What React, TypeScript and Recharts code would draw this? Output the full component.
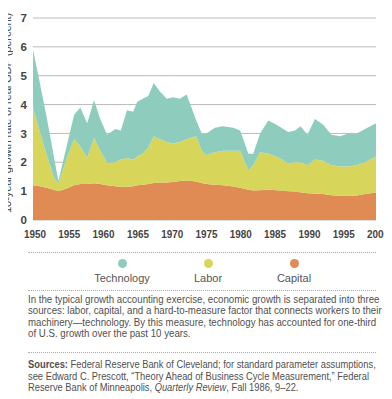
import { AreaChart, Area, XAxis, YAxis, CartesianGrid } from "recharts";

const years = [
  1950, 1951, 1952, 1953, 1953.7, 1955, 1956, 1956.9, 1957.9, 1958.9, 1959.8,
  1960.8, 1962, 1962.8, 1963.7, 1964.6, 1965.2, 1966, 1966.8, 1967.6, 1968.5,
  1969.5, 1970.4, 1971.4, 1972.4, 1973.8, 1974.6, 1975.3, 1976.5, 1977.7,
  1979.2, 1980.2, 1981.4, 1982.1, 1983.1, 1984.3, 1985.5, 1987.2, 1988.2,
  1989, 1990, 1991.1, 1992.3, 1993.5, 1994.8, 1995.9, 1997.2, 1998.4, 2000,
];
const capital = [
  1.2, 1.17, 1.12, 1.05, 1.0, 1.1, 1.2, 1.25, 1.25, 1.27, 1.25, 1.2, 1.17,
  1.15, 1.15, 1.17, 1.2, 1.22, 1.25, 1.28, 1.3, 1.3, 1.32, 1.35, 1.37, 1.33,
  1.28, 1.25, 1.22, 1.2, 1.16, 1.12, 1.05, 1.02, 1.03, 1.05, 1.03, 1.0, 0.98,
  0.96, 0.93, 0.92, 0.9, 0.86, 0.84, 0.83, 0.85, 0.9, 0.95,
];
const labor = [
  2.7, 1.88, 1.13, 0.45, 0.25, 1.1, 1.6, 1.3, 0.9, 1.58, 1.15, 0.78, 0.83,
  0.95, 1.0, 0.93, 1.0, 1.08, 1.25, 1.62, 1.5, 1.4, 1.33, 1.35, 1.43, 1.57,
  1.12, 1.0, 1.13, 1.2, 1.24, 1.28, 0.67, 0.88, 1.32, 1.25, 1.17, 0.97, 1.02,
  1.04, 0.97, 1.18, 1.15, 1.04, 1.01, 1.02, 1.05, 1.1, 1.25,
];
const technology = [
  2.0, 1.7, 1.3, 0.75, 0.1, 0.45, 0.85, 1.35, 1.2, 1.3, 1.1, 0.97, 1.15, 1.0,
  1.65, 1.65, 1.9, 1.9, 1.8, 1.85, 1.65, 1.5, 1.6, 1.5, 1.55, 0.55, 0.6, 0.75,
  0.85, 0.85, 0.8, 0.7, 0.58, 0.4, 0.65, 1.15, 1.1, 1.08, 1.1, 1.25, 1.05, 1.4,
  1.25, 1.05, 1.05, 1.15, 1.1, 1.15, 1.15,
];
const xTicks = [1950, 1955, 1960, 1965, 1970, 1975, 1980, 1985, 1990, 1995, 2000];
const yTicks = [0, 1, 2, 3, 4, 5, 6, 7];

const data = years.map((y, i) => ({
  year: y,
  capital: capital[i],
  labor: labor[i],
  technology: technology[i],
}));

const TEAL = "#8ecdbd";
const YELLOW = "#d8d65a";
const ORANGE = "#df8b53";
const SANS = '"Liberation Sans", Arial, sans-serif';

const legend = [
  { name: "Technology", color: TEAL, x: 122 },
  { name: "Labor", color: YELLOW, x: 208 },
  { name: "Capital", color: ORANGE, x: 294 },
];

const dotted = (top: number) => (
  <div
    style={{
      position: "absolute",
      left: 28,
      width: 348,
      top,
      borderTop: "1px dotted #aaa",
    }}
  />
);

// narrow bold year labels, like the condensed face in the original
const YearTick = (props: any) => {
  const { x, y, payload } = props;
  return (
    <text
      x={x + 2}
      y={y + 10}
      textAnchor="middle"
      fill="#444"
      fontSize={11.5}
      fontWeight={700}
      fontFamily={SANS}
      textLength={22}
      lengthAdjust="spacingAndGlyphs"
    >
      {payload.value}
    </text>
  );
};

export default function App() {
  const textStyle = {
    position: "absolute" as const,
    left: 28,
    fontFamily: SANS,
    fontSize: 11.5,
    color: "#505050",
    whiteSpace: "nowrap" as const,
    lineHeight: "11.3px",
    transform: "scaleX(0.842)",
    transformOrigin: "left top",
  };
  return (
    <div
      style={{
        position: "relative",
        width: 392,
        height: 399,
        margin: "-8px 0 0 -8px",
        background: "#fff",
        overflow: "hidden",
      }}
    >
      <AreaChart
        width={392}
        height={246}
        data={data}
        margin={{ top: 18, right: 16, left: 0, bottom: 0 }}
      >
        <CartesianGrid vertical={false} stroke="#bbb" />
        <XAxis
          dataKey="year"
          type="number"
          domain={[1950, 2000]}
          ticks={xTicks}
          interval={0}
          tickLine={false}
          axisLine={false}
          height={26}
          tick={<YearTick />}
        />
        <YAxis
          type="number"
          domain={[0, 7]}
          ticks={yTicks}
          width={33}
          tickLine={false}
          axisLine={false}
          tickSize={4}
          tick={{ fill: "#444", fontSize: 11.5, fontWeight: 700, fontFamily: SANS }}
        />
        <Area
          type="linear"
          dataKey="capital"
          stackId="a"
          stroke="none"
          fill={ORANGE}
          fillOpacity={1}
          isAnimationActive={false}
        />
        <Area
          type="linear"
          dataKey="labor"
          stackId="a"
          stroke="none"
          fill={YELLOW}
          fillOpacity={1}
          isAnimationActive={false}
        />
        <Area
          type="linear"
          dataKey="technology"
          stackId="a"
          stroke="none"
          fill={TEAL}
          fillOpacity={1}
          isAnimationActive={false}
        />
      </AreaChart>

      <div
        style={{
          position: "absolute",
          left: 1,
          top: 13,
          height: 200,
          width: 13,
          writingMode: "vertical-rl",
          transform: "rotate(180deg)",
          textAlign: "center",
          fontFamily: SANS,
          fontSize: 11.3,
          letterSpacing: "-0.2px",
          color: "#4a4a4a",
          whiteSpace: "nowrap",
          lineHeight: "13px",
        }}
      >
        10-year growth rate of real GDP (percent)
      </div>

      {dotted(252)}
      {legend.map((l) => (
        <div key={l.name}>
          <div
            style={{
              position: "absolute",
              left: l.x - 4.5,
              top: 258.5,
              width: 9,
              height: 9,
              borderRadius: 4.5,
              background: l.color,
            }}
          />
          <div
            style={{
              position: "absolute",
              left: l.x - 40,
              width: 80,
              top: 272,
              textAlign: "center",
              fontFamily: SANS,
              fontSize: 11,
              color: "#555",
            }}
          >
            {l.name}
          </div>
        </div>
      ))}
      {dotted(290)}
      <div style={{ ...textStyle, top: 294 }}>
        <div>In the typical growth accounting exercise, economic growth is separated into three</div>
        <div>sources: labor, capital, and a hard-to-measure factor that connects workers to their</div>
        <div>machinery—technology. By this measure, technology has accounted for one-third</div>
        <div>of U.S. growth over the past 10 years.</div>
      </div>
      {dotted(352)}
      <div style={{ ...textStyle, top: 359, lineHeight: "11.6px", transform: "scaleX(0.812)" }}>
        <div>
          <b>Sources:</b> Federal Reserve Bank of Cleveland; for standard parameter assumptions,
        </div>
        <div>see Edward C. Prescott, “Theory Ahead of Business Cycle Measurement,” Federal</div>
        <div>
          Reserve Bank of Minneapolis, <i>Quarterly Review</i>, Fall 1986, 9–22.
        </div>
      </div>
    </div>
  );
}
